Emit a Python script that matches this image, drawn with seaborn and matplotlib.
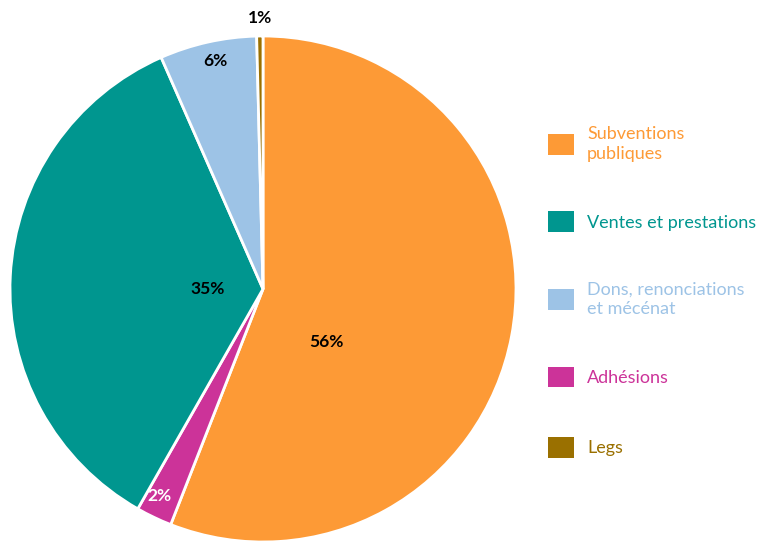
import matplotlib
matplotlib.use("Agg")
import matplotlib.pyplot as plt
from matplotlib.patches import Patch
import seaborn as sns

# sources de financement (lecture du graphique, en %)
categories = ["Subventions\npubliques", "Ventes et prestations",
              "Dons, renonciations\net mécénat", "Adhésions", "Legs"]
values = [56.0, 35.2, 6.2, 2.3, 0.4]
pct_labels = ["56%", "35%", "6%", "2%", "1%"]
colors = ["#FD9A36", "#00968F", "#9DC3E6", "#CC3399", "#9A7000"]

# ordre de tracé (sens horaire depuis midi)
pie_order = [0, 3, 1, 2, 4]

# position des étiquettes (en rayon)
label_pos = {0: (0.25, -0.21), 1: (-0.22, 0.0), 2: (-0.19, 0.90),
             3: (-0.41, -0.82), 4: (-0.01, 1.07)}
label_col = {0: "black", 1: "black", 2: "black", 3: "white", 4: "black"}

sns.set_theme(style="white")
plt.rcParams["font.family"] = ["Lato", "DejaVu Sans"]

fig = plt.figure(figsize=(7.63, 5.41), dpi=100)
ax = fig.add_axes([10 / 763, (252 - 253) / 541, 506 / 763, 506 / 541])

vals = [values[i] for i in pie_order]
cols = [colors[i] for i in pie_order]
ax.pie(vals, colors=cols, startangle=90, counterclock=False, radius=1,
       wedgeprops=dict(edgecolor="white", linewidth=2))
ax.set_xlim(-1, 1)
ax.set_ylim(-1, 1)
ax.set_aspect("equal")
ax.axis("off")

for i, (x, y) in label_pos.items():
    ax.text(x, y, pct_labels[i], ha="center", va="center", fontsize=12.5,
            fontweight="bold", color=label_col[i], clip_on=False)

handles = [Patch(facecolor=c, edgecolor="none") for c in colors]
leg = fig.legend(handles, categories, loc="upper left",
                 bbox_to_anchor=(532 / 763, 1 - 110 / 541), frameon=False,
                 labelcolor=colors, handlelength=1.4, handleheight=1.4,
                 handletextpad=0.75, labelspacing=2.75,
                 prop={"size": 13})
for t in leg.get_texts():
    t.set_linespacing(1.25)

fig.savefig("out.png", dpi=100)
